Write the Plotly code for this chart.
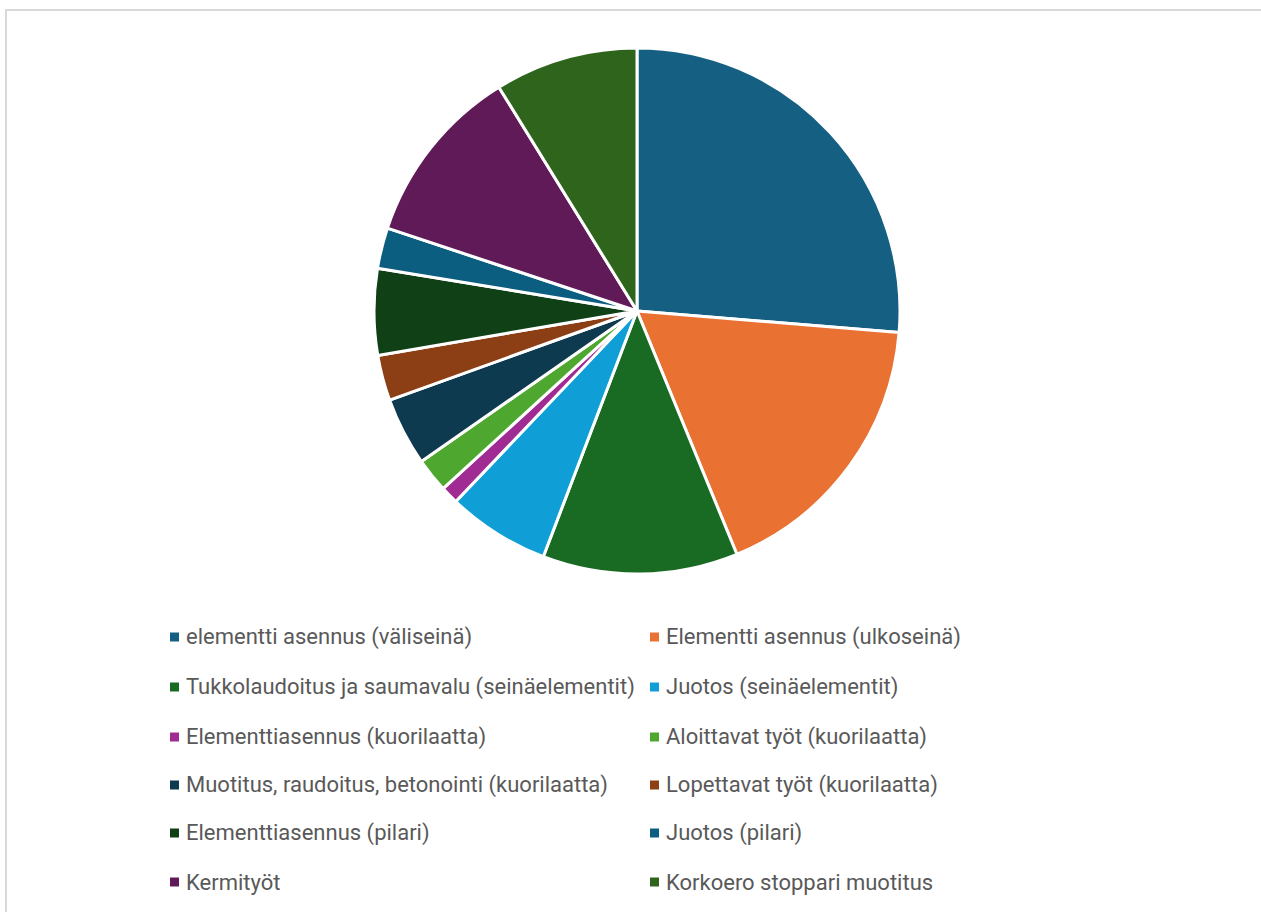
import plotly.graph_objects as go

# Share of work per task (%)
labels = [
    "elementti asennus (väliseinä)",
    "Elementti asennus (ulkoseinä)",
    "Tukkolaudoitus ja saumavalu (seinäelementit)",
    "Juotos (seinäelementit)",
    "Elementtiasennus (kuorilaatta)",
    "Aloittavat työt (kuorilaatta)",
    "Muotitus, raudoitus, betonointi (kuorilaatta)",
    "Lopettavat työt (kuorilaatta)",
    "Elementtiasennus (pilari)",
    "Juotos (pilari)",
    "Kermityöt",
    "Korkoero stoppari muotitus",
]
values = [26.3, 17.5, 12.0, 6.3, 1.1, 2.1, 4.2, 2.8, 5.3, 2.5, 11.1, 8.8]
colors = [
    "#156082", "#E97132", "#196B24", "#0F9ED5", "#A02B93", "#4EA72E",
    "#0D3A4E", "#8C3E14", "#0F4016", "#0B5E80", "#601A58", "#2F641C",
]

W, H = 1261, 912
cx, cy, r = 637, 311, 263  # pie centre and radius in pixels

fig = go.Figure(
    go.Pie(
        labels=labels,
        values=values,
        sort=False,
        direction="clockwise",
        rotation=0,
        marker=dict(colors=colors, line=dict(color="white", width=3)),
        textinfo="none",
        hoverinfo="label+percent",
        showlegend=False,
        domain=dict(
            x=[(cx - r) / W, (cx + r) / W],
            y=[1 - (cy + r) / H, 1 - (cy - r) / H],
        ),
    )
)

# Two-column legend below the pie
col_x = [170, 650]
row_y = [637, 687, 737, 785, 833, 882]
sq = 9
shapes = []
annotations = []
for i, (lab, col) in enumerate(zip(labels, colors)):
    x = col_x[i % 2]
    y = row_y[i // 2]
    shapes.append(dict(
        type="rect", xref="paper", yref="paper",
        x0=x / W, x1=(x + sq) / W,
        y0=1 - (y + sq / 2) / H, y1=1 - (y - sq / 2) / H,
        fillcolor=col, line=dict(width=0),
    ))
    annotations.append(dict(
        text=lab, xref="paper", yref="paper",
        x=(x + sq + 5) / W, y=1 - y / H,
        xanchor="left", yanchor="middle", showarrow=False,
        font=dict(family="Roboto, sans-serif", size=22, color="#595959"),
    ))

# Chart area frame
shapes.append(dict(
    type="rect", xref="paper", yref="paper",
    x0=6 / W, x1=1.02, y0=-0.02, y1=1 - 10 / H,
    line=dict(color="#D9D9D9", width=2), fillcolor="rgba(0,0,0,0)",
))

fig.update_layout(
    width=W, height=H,
    margin=dict(l=0, r=0, t=0, b=0),
    paper_bgcolor="white", plot_bgcolor="white",
    shapes=shapes, annotations=annotations,
)

fig.write_html("out.html")
